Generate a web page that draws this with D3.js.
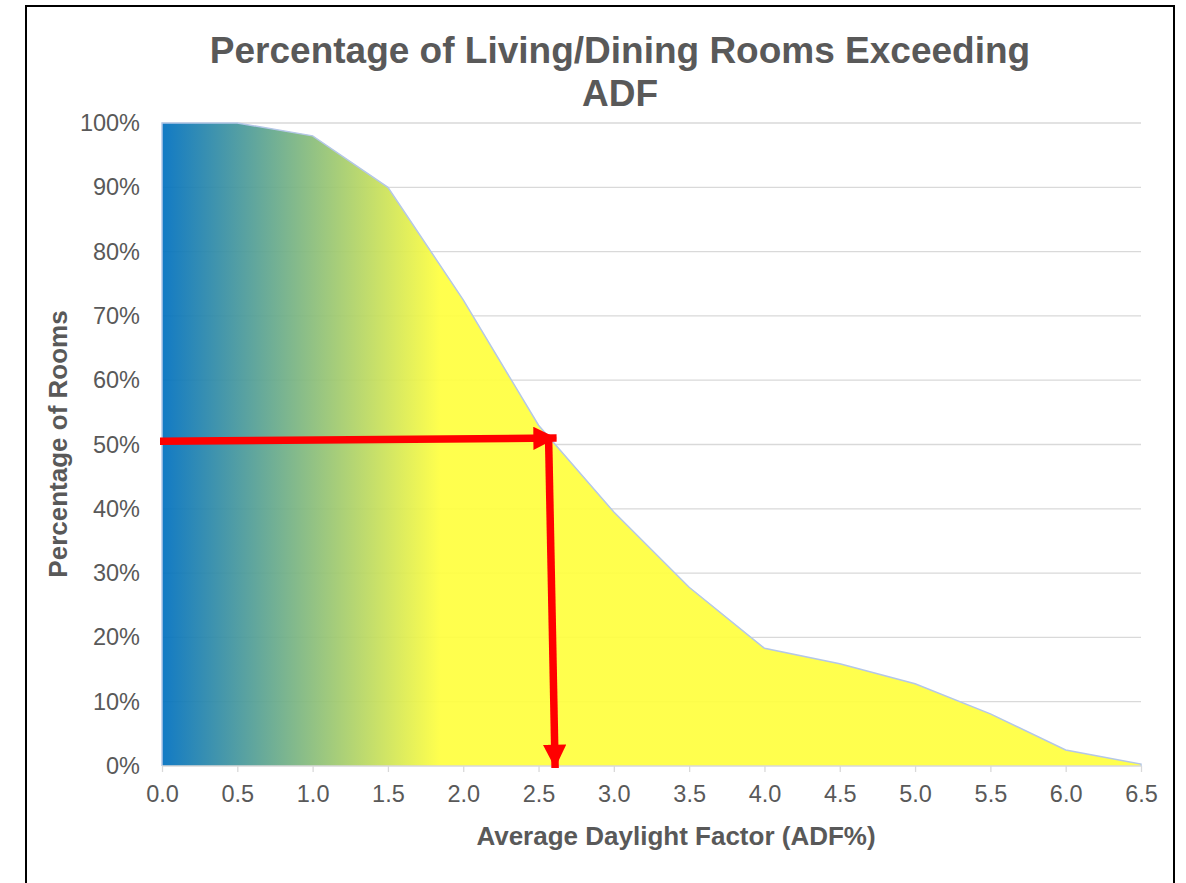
<!DOCTYPE html>
<html><head><meta charset="utf-8">
<script src="https://cdn.jsdelivr.net/npm/d3@7"></script>
<style>html,body{margin:0;padding:0;background:#fff;}svg{display:block;font-family:"Liberation Sans",Arial,sans-serif;}</style>
</head><body>
<script>
// ---- data ----
const adfValues = [0.0, 0.5, 1.0, 1.5, 2.0, 2.5, 3.0, 3.5, 4.0, 4.5, 5.0, 5.5, 6.0, 6.5];
const pctRooms  = [1.00, 1.00, 0.98, 0.90, 0.725, 0.53, 0.395, 0.278, 0.183, 0.159, 0.128, 0.081, 0.025, 0.003];
const xTicks = [0.0, 0.5, 1.0, 1.5, 2.0, 2.5, 3.0, 3.5, 4.0, 4.5, 5.0, 5.5, 6.0, 6.5];
const yTicks = [0, 0.1, 0.2, 0.3, 0.4, 0.5, 0.6, 0.7, 0.8, 0.9, 1.0];
const titleLines = ["Percentage of Living/Dining Rooms Exceeding", "ADF"];
const xTitle = "Average Daylight Factor (ADF%)";
const yTitle = "Percentage of Rooms";
// annotation arrows (ADF, percentage)
const hArrow = [[0.0, 0.505], [2.62, 0.51]];
const vArrow = [[2.58, 0.51], [2.61, 0.0]];

const W = 1186, H = 883;
const svg = d3.select("body").append("svg").attr("width", W).attr("height", H);

// frame
svg.append("rect").attr("x", 26).attr("y", 6).attr("width", 1148).attr("height", 890)
  .attr("fill", "#fff").attr("stroke", "#000").attr("stroke-width", 2);

const x = d3.scaleLinear().domain([0, 6.5]).range([162, 1141]);
const y = d3.scaleLinear().domain([0, 1]).range([766, 123]);

const defs = svg.append("defs");
const grad = defs.append("linearGradient").attr("id", "g").attr("gradientUnits", "userSpaceOnUse")
  .attr("x1", x(0)).attr("x2", x(1.85)).attr("y1", 0).attr("y2", 0);
grad.append("stop").attr("offset", 0).attr("stop-color", "#0070C0");
grad.append("stop").attr("offset", 1).attr("stop-color", "#FFFF40");

const marker = defs.append("marker").attr("id", "ah").attr("viewBox", "0 0 10 10")
  .attr("refX", 10).attr("refY", 5).attr("markerWidth", 3.2).attr("markerHeight", 3.1)
  .attr("orient", "auto").attr("markerUnits", "strokeWidth");
marker.append("path").attr("d", "M0,0 L10,5 L0,10 Z").attr("fill", "#FF0000");

// gridlines
svg.append("g").selectAll("line").data(yTicks.filter(d => d > 0)).join("line")
  .attr("x1", x(0)).attr("x2", x(6.5)).attr("y1", d => y(d)).attr("y2", d => y(d))
  .attr("stroke", "#D9D9D9").attr("stroke-width", 1.3);

// area
const pts = adfValues.map((a, i) => [a, pctRooms[i]]);
const area = d3.area().x(d => x(d[0])).y0(y(0)).y1(d => y(d[1]));
svg.append("path").datum(pts).attr("d", area).attr("fill", "url(#g)").attr("fill-opacity", 0.93);
const line = d3.line().x(d => x(d[0])).y(d => y(d[1]));
svg.append("path").datum([[0, 0]].concat(pts).concat([[6.5, 0]])).attr("d", line)
  .attr("fill", "none").attr("stroke", "#B4C7E7").attr("stroke-width", 1.5);

// x axis
const xAxis = d3.axisBottom(x).tickValues(xTicks).tickFormat(d3.format(".1f")).tickSize(6).tickPadding(13);
const gx = svg.append("g").attr("transform", `translate(0,${y(0)})`).call(xAxis);
gx.select(".domain").attr("stroke", "#D9D9D9").attr("stroke-width", 1.5).attr("d", `M${x(0)},0H${x(6.5)}`);
gx.selectAll(".tick line").attr("stroke", "#D9D9D9").attr("stroke-width", 1.3);
gx.selectAll(".tick text").attr("fill", "#595959").attr("font-size", 23.5).attr("font-family", "Liberation Sans, Arial, sans-serif");

// y axis labels
const yAxis = d3.axisLeft(y).tickValues(yTicks).tickFormat(d3.format(".0%")).tickSize(0).tickPadding(22);
const gy = svg.append("g").attr("transform", `translate(${x(0)},0)`).call(yAxis);
gy.select(".domain").remove();
gy.selectAll(".tick text").attr("fill", "#595959").attr("font-size", 23.5).attr("font-family", "Liberation Sans, Arial, sans-serif");

// arrows
const arr = svg.append("g");
[hArrow, vArrow].forEach(a => {
  arr.append("line").attr("x1", x(a[0][0]) - 2).attr("y1", y(a[0][1]))
    .attr("x2", x(a[1][0])).attr("y2", y(a[1][1]) + (a === vArrow ? 2 : 0))
    .attr("stroke", "#FF0000").attr("stroke-width", 7.5).attr("marker-end", "url(#ah)");
});

// titles
const t = svg.append("text").attr("text-anchor", "middle").attr("fill", "#595959")
  .attr("font-weight", "bold").attr("font-size", 37);
titleLines.forEach((l, i) => t.append("tspan").attr("x", 620).attr("y", 63 + i * 43).text(l));

svg.append("text").attr("x", 676).attr("y", 845).attr("text-anchor", "middle")
  .attr("fill", "#595959").attr("font-weight", "bold").attr("font-size", 26).text(xTitle);
svg.append("text").attr("transform", "translate(67,444) rotate(-90)").attr("text-anchor", "middle")
  .attr("fill", "#595959").attr("font-weight", "bold").attr("font-size", 26).text(yTitle);
</script>
</body></html>
